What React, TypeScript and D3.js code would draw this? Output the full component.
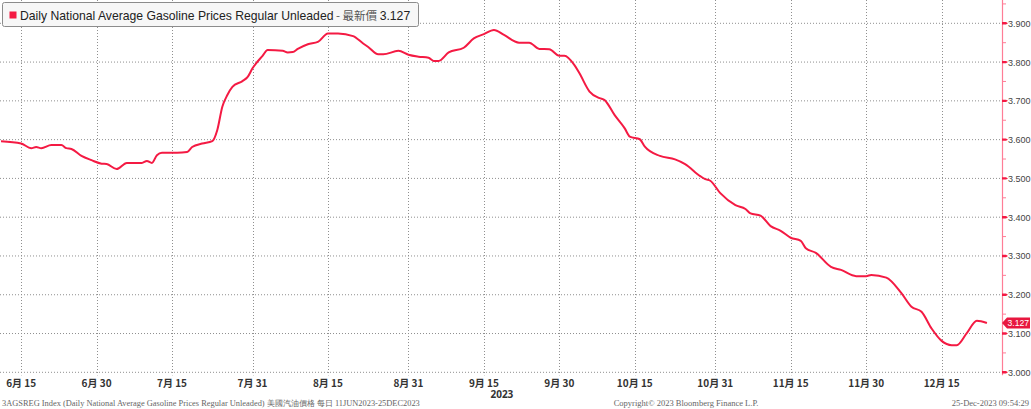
import React from "react";
import * as d3 from "d3";

const dates: string[] = ["2023-06-11","2023-06-15","2023-06-17","2023-06-18","2023-06-19","2023-06-21","2023-06-23","2023-06-24","2023-06-25","2023-06-27","2023-06-29","2023-07-01","2023-07-02","2023-07-04","2023-07-06","2023-07-09","2023-07-10","2023-07-11","2023-07-12","2023-07-13","2023-07-16","2023-07-18","2023-07-19","2023-07-21","2023-07-23","2023-07-24","2023-07-25","2023-07-26","2023-07-27","2023-07-29","2023-07-30","2023-07-31","2023-08-02","2023-08-03","2023-08-06","2023-08-07","2023-08-08","2023-08-09","2023-08-11","2023-08-13","2023-08-15","2023-08-17","2023-08-20","2023-08-22","2023-08-23","2023-08-25","2023-08-26","2023-08-29","2023-08-31","2023-09-02","2023-09-04","2023-09-05","2023-09-06","2023-09-08","2023-09-11","2023-09-13","2023-09-15","2023-09-17","2023-09-19","2023-09-22","2023-09-24","2023-09-26","2023-09-28","2023-09-30","2023-10-01","2023-10-03","2023-10-04","2023-10-06","2023-10-08","2023-10-09","2023-10-11","2023-10-13","2023-10-14","2023-10-16","2023-10-17","2023-10-20","2023-10-23","2023-10-25","2023-10-28","2023-10-29","2023-10-30","2023-11-01","2023-11-04","2023-11-06","2023-11-07","2023-11-09","2023-11-11","2023-11-13","2023-11-15","2023-11-17","2023-11-18","2023-11-20","2023-11-23","2023-11-25","2023-11-28","2023-11-30","2023-12-01","2023-12-04","2023-12-07","2023-12-09","2023-12-11","2023-12-13","2023-12-15","2023-12-17","2023-12-18","2023-12-20","2023-12-22","2023-12-24"];

const prices: number[] = [3.596,3.590,3.578,3.581,3.578,3.586,3.586,3.578,3.576,3.558,3.547,3.538,3.537,3.524,3.540,3.540,3.545,3.540,3.560,3.566,3.566,3.568,3.581,3.590,3.596,3.625,3.685,3.715,3.736,3.751,3.761,3.784,3.816,3.831,3.829,3.825,3.826,3.834,3.846,3.852,3.874,3.874,3.867,3.848,3.839,3.820,3.820,3.829,3.819,3.814,3.811,3.803,3.803,3.825,3.837,3.861,3.872,3.883,3.870,3.850,3.850,3.834,3.833,3.816,3.816,3.792,3.771,3.724,3.707,3.702,3.663,3.629,3.608,3.601,3.582,3.558,3.549,3.537,3.506,3.498,3.494,3.462,3.431,3.421,3.410,3.404,3.377,3.365,3.347,3.339,3.320,3.308,3.272,3.264,3.248,3.248,3.251,3.244,3.204,3.169,3.156,3.113,3.081,3.070,3.070,3.101,3.133,3.127];

const xTickDates: string[] = ["2023-06-15","2023-06-30","2023-07-15","2023-07-31","2023-08-15","2023-08-31","2023-09-15","2023-09-30","2023-10-15","2023-10-31","2023-11-15","2023-11-30","2023-12-15"];
const xTickLabels: string[] = ["6月 15","6月 30","7月 15","7月 31","8月 15","8月 31","9月 15","9月 30","10月 15","10月 31","11月 15","11月 30","12月 15"];
const yTicks: number[] = [3.0, 3.1, 3.2, 3.3, 3.4, 3.5, 3.6, 3.7, 3.8, 3.9];
const yMinorTicks: number[] = [3.05, 3.15, 3.25, 3.35, 3.45, 3.55, 3.65, 3.75, 3.85, 3.95];
const domainStart = "2023-06-11";
const domainEnd = "2023-12-27";
const yearLabel = "2023";
const lastValue = 3.127;
const legendLabel = "Daily National Average Gasoline Prices Regular Unleaded";
const legendSuffix = " - 最新價 ";
const footerLeft = "3AGSREG Index (Daily National Average Gasoline Prices Regular Unleaded) 美國汽油價格   每日 11JUN2023-25DEC2023";
const footerMid = "Copyright© 2023 Bloomberg Finance L.P.";
const footerRight = "25-Dec-2023 09:54:29";

const W = 1031;
const H = 409;
const plotLeft = 1;
const axisX = 1002;
const plotTop = 23.3;
const plotBottom = 372.3;
const LINE = "#f41a43";

export default function App() {
  const parse = d3.timeParse("%Y-%m-%d");
  const data = dates.map((d, i) => ({ date: parse(d) as Date, value: prices[i] }));
  const x = d3.scaleTime().domain([parse(domainStart) as Date, parse(domainEnd) as Date]).range([plotLeft, axisX]);
  const y = d3.scaleLinear().domain([3.0, 3.9]).range([plotBottom, plotTop]);
  const line = d3.line<{ date: Date; value: number }>()
    .x(d => x(d.date))
    .y(d => y(d.value))
    .curve(d3.curveMonotoneX);
  const ly = y(lastValue);
  const fmt = d3.format(".3f");
  const tick915 = x(parse("2023-09-15") as Date);

  return (
    <svg width={W} height={H} style={{ position: "absolute", left: 0, top: 0, background: "#fff" }}>
      <rect x={0} y={0} width={W} height={H} fill="#fff" />
      {yTicks.map(t => (
        <line key={"h" + t} x1={0} x2={axisX} y1={y(t)} y2={y(t)} stroke="#8f8f8f" strokeWidth={1} strokeDasharray="1,2" />
      ))}
      {xTickDates.map(d => {
        const xx = Math.round(x(parse(d) as Date)) + 0.5;
        return <line key={"v" + d} x1={xx} x2={xx} y1={0} y2={plotBottom + 3} stroke="#8f8f8f" strokeWidth={1} strokeDasharray="1,2" />;
      })}
      {xTickDates.map((d, i) => (
        <text key={"xl" + d} x={x(parse(d) as Date)} y={387} textAnchor="middle" fontSize={10} fontWeight={700}
          fontFamily="'Noto Sans CJK SC', 'Noto Sans', sans-serif" fill="#333">{xTickLabels[i]}</text>
      ))}
      <text x={tick915 + 18} y={398} textAnchor="middle" fontSize={10} fontWeight={700}
        fontFamily="'Noto Sans', sans-serif" fill="#333">{yearLabel}</text>
      <line x1={axisX + 0.5} x2={axisX + 0.5} y1={0} y2={plotBottom + 3} stroke="#ff7d96" strokeWidth={1.2} />
      {yMinorTicks.map(t => (
        <line key={"m" + t} x1={axisX} x2={axisX + 4} y1={y(t)} y2={y(t)} stroke="#ff7d96" strokeWidth={1} />
      ))}
      {yTicks.map(t => (
        <g key={"yt" + t}>
          <path d={`M${axisX},${y(t) - 1.2}L${axisX + 4},${y(t) - 1.2}L${axisX + 6},${y(t)}L${axisX + 4},${y(t) + 1.2}L${axisX},${y(t) + 1.2}Z`} fill="#f41a43" />
          <text x={axisX + 6} y={y(t) + 3.5} fontSize={9} fontFamily="'Liberation Sans', Arial, sans-serif" fill="#444">{fmt(t)}</text>
        </g>
      ))}
      <path d={line(data) || ""} fill="none" stroke={LINE} strokeWidth={2} strokeLinejoin="round" />
      <path d={`M${axisX},${ly}L${axisX + 5},${ly - 5.5}L${axisX + 28},${ly - 5.5}L${axisX + 28},${ly + 5.5}L${axisX + 5},${ly + 5.5}Z`} fill="#e8173f" />
      <text x={axisX + 5.5} y={ly + 3.2} fontSize={8.6} fontFamily="'Liberation Sans', Arial, sans-serif" fill="#fff">{fmt(lastValue)}</text>
      <rect x={2.5} y={2.5} width={416} height={24} rx={2} fill="#f7f7f7" stroke="#8c8c8c" strokeWidth={1} />
      <rect x={9.5} y={11.5} width={7} height={7} fill="#f41a43" />
      <text x={20} y={19.5} fontSize={12.2} fontFamily="'Liberation Sans', Arial, sans-serif" fill="#222">
        {legendLabel}
        <tspan fill="#555" fontFamily="'Noto Sans CJK TC', 'Liberation Sans', sans-serif" fontSize={11.5}>{legendSuffix}</tspan>
        <tspan>{fmt(lastValue)}</tspan>
      </text>
      <text x={2} y={406} fontSize={8.4} fontFamily="'Liberation Serif', 'DejaVu Serif', serif" fill="#666">{footerLeft}</text>
      <text x={686} y={406} textAnchor="middle" fontSize={8.5} fontFamily="'Liberation Serif', 'DejaVu Serif', serif" fill="#666">{footerMid}</text>
      <text x={1029} y={406} textAnchor="end" fontSize={8.5} fontFamily="'Liberation Serif', 'DejaVu Serif', serif" fill="#666">{footerRight}</text>
    </svg>
  );
}
